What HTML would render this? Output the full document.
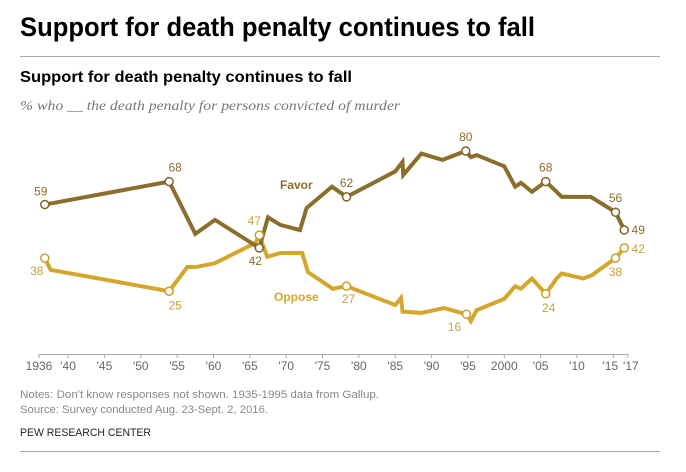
<!DOCTYPE html>
<html><head><meta charset="utf-8"><style>
html,body{margin:0;padding:0;background:#fff;}
svg{display:block;font-family:"Liberation Sans",sans-serif;}
</style></head><body>
<svg id="chart" width="686" height="472">
<text x="20" y="36" font-size="27" font-weight="bold" fill="#000" textLength="515" lengthAdjust="spacingAndGlyphs">Support for death penalty continues to fall</text>
<line x1="20" y1="56.5" x2="660" y2="56.5" stroke="#aaa"/>
<text x="20" y="82" font-size="16" font-weight="bold" fill="#000" textLength="332" lengthAdjust="spacingAndGlyphs">Support for death penalty continues to fall</text>
<text x="20" y="110" font-size="14" font-style="italic" fill="#777" font-family="Liberation Serif,serif" textLength="380" lengthAdjust="spacingAndGlyphs">% who __ the death penalty for persons convicted of murder</text>
<g id="axis"></g>
<g id="series"></g>
<text x="20" y="398" font-size="11" fill="#888" textLength="359" lengthAdjust="spacingAndGlyphs">Notes: Don't know responses not shown. 1935-1995 data from Gallup.</text>
<text x="20" y="413" font-size="11" fill="#888" textLength="248" lengthAdjust="spacingAndGlyphs">Source: Survey conducted Aug. 23-Sept. 2, 2016.</text>
<text x="20" y="436" font-size="11" fill="#222" textLength="131" lengthAdjust="spacingAndGlyphs">PEW RESEARCH CENTER</text>
<line x1="20" y1="451.5" x2="660" y2="451.5" stroke="#aaa"/>
</svg>
<script>
const tickYears=[1936,1940,1945,1950,1955,1960,1965,1970,1975,1980,1985,1990,1995,2000,2005,2010,2015,2017];
const tickLabels=["1936","'40","'45","'50","'55","'60","'65","'70","'75","'80","'85","'90","'95","2000","'05","'10","'15","'17"];
const favorYears=[1936.8,1953.9,1957.5,1960.2,1966.3,1967.5,1969.2,1971.9,1972.8,1976.3,1978.3,1985,1986,1986.1,1988.6,1991.5,1994.7,1995.4,1996.2,2000,2001.5,2002.3,2003.8,2005.7,2007.2,2007.9,2011.9,2015.3,2016.5];
const favorValues=[59,68,47.5,53,42,54,51,49,57.6,66,62,72,75.7,70.6,79,76.5,80,77.6,78.4,74,66,67.5,64,68,64,62,62,56,49];
const opposeYears=[1936.8,1937.6,1953.9,1956.4,1957.6,1960.2,1965.8,1966.3,1967.4,1969.2,1972.2,1973,1976.4,1978.3,1985,1985.8,1986,1988.6,1991.7,1994.8,1995.4,1996.2,2000,2001.5,2002.3,2003.8,2005.7,2007.2,2007.9,2010.9,2012.1,2015.3,2016.5];
const opposeValues=[38,33.4,25,34.5,34.5,36,44,47,38.5,40,40,32.5,26,27,19.6,22.4,17,16.5,18.4,16,13.3,17.6,22,27,26,30,24,30,32,30,31.4,38,42];
const favorLabels=[[1936.8,59,"59",-4,-9],[1953.9,68,"68",6,-10],[1966.3,42,"42",-4,17],[1978.3,62,"62",0,-10],[1994.7,80,"80",0,-10],[2005.7,68,"68",0,-10],[2015.3,56,"56",0,-10],[2016.5,49,"49",14,4]];
const opposeLabels=[[1936.8,38,"38",-8,17],[1953.9,25,"25",6,18],[1966.3,47,"47",-5,-10],[1978.3,27,"27",2,17],[1994.8,16,"16",-12,17],[2005.7,24,"24",3,18],[2015.3,38,"38",0,18],[2016.5,42,"42",14,5]];
const favorDots=[1936.8,1953.9,1966.3,1978.3,1994.7,2005.7,2015.3,2016.5];
const opposeDots=[1936.8,1953.9,1966.3,1978.3,1994.8,2005.7,2015.3,2016.5];
const NS="http://www.w3.org/2000/svg";
const x=y=>39+(y-1936)*7.27;
const yv=v=>151+(80-v)*2.55;
const ax=document.getElementById('axis'),sg=document.getElementById('series');
function mk(t,a,p){const e=document.createElementNS(NS,t);for(const k in a)e.setAttribute(k,a[k]);p.appendChild(e);return e;}
const al=mk('line',{x1:39,y1:354.5,x2:628,y2:354.5,stroke:'#aaa'},ax);


tickYears.forEach((t,i)=>{
 const tk=mk('line',{x1:x(t),y1:354,x2:x(t),y2:358,stroke:'#aaa'},ax);
 
 
 const tx=mk('text',{x:x(t)+(t===2015?-3:t===2017?3:0),y:370,'font-size':12,fill:'#666','text-anchor':'middle'},ax);
 tx.textContent=tickLabels[i];
 
 
});
function series(ys,vs,col,name){
 const p=mk('polyline',{points:ys.map((y,i)=>x(y)+','+yv(vs[i])).join(' '),fill:'none',stroke:col,'stroke-width':4,'stroke-linejoin':'miter'},sg);
 
 
}
series(opposeYears,opposeValues,'#d4a72c','oppose');
series(favorYears,favorValues,'#8b6d2c','favor');
function dots(ds,ys,vs,col,name){
 ds.forEach(d=>{const i=ys.indexOf(d);
  const c=mk('circle',{cx:x(d),cy:yv(vs[i]),r:4,fill:'#fff',stroke:col,'stroke-width':1.5},sg);
  
  });
}
dots(opposeDots,opposeYears,opposeValues,'#c99f2c','oppose');
dots(favorDots,favorYears,favorValues,'#7d6229','favor');
function labels(ls,col,name){
 ls.forEach(l=>{const t=mk('text',{x:x(l[0])+l[3],y:yv(l[1])+l[4],'font-size':12,fill:col,'text-anchor':'middle'},sg);
  t.textContent=l[2];
  
  });
}
labels(favorLabels,'#8b6d2c','favor');
labels(opposeLabels,'#c9a033','oppose');
const fl=mk('text',{x:280,y:189,'font-size':12,'font-weight':'bold',fill:'#8b6d2c'},sg);
fl.textContent='Favor';


const ol=mk('text',{x:274,y:301,'font-size':12,'font-weight':'bold',fill:'#d4a72c'},sg);
ol.textContent='Oppose';


</script>
</body></html>
